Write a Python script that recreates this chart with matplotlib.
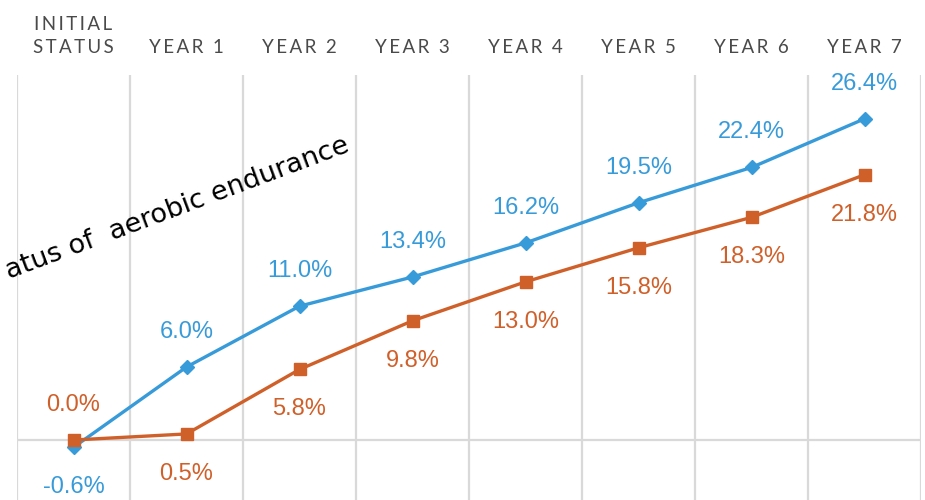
import matplotlib.pyplot as plt

# categories and values
categories = ['INITIAL\nSTATUS', 'YEAR 1', 'YEAR 2', 'YEAR 3', 'YEAR 4', 'YEAR 5', 'YEAR 6', 'YEAR 7']
blue_vals = [-0.6, 6.0, 11.0, 13.4, 16.2, 19.5, 22.4, 26.4]
orange_vals = [0.0, 0.5, 5.8, 9.8, 13.0, 15.8, 18.3, 21.8]

# label above (+1) or below (-1) each point
blue_side = [-1, 1, 1, 1, 1, 1, 1, 1]
orange_side = [1, -1, -1, -1, -1, -1, -1, -1]

blue = '#389bd9'
orange = '#d0602a'
grid_c = '#d9d9d9'

fig = plt.figure(figsize=(9.25, 5), dpi=100)
ax = fig.add_axes([17 / 925, 0, 904 / 925, 0.85])

x = list(range(len(categories)))

# vertical lines between categories, and the zero line
for b in range(len(categories) + 1):
    ax.axvline(b - 0.5, color=grid_c, lw=1.6, zorder=1)
ax.axhline(0, color=grid_c, lw=1.6, zorder=1)

ax.plot(x, blue_vals, color=blue, lw=2.4, marker='D', ms=7, zorder=3)
ax.plot(x, orange_vals, color=orange, lw=2.4, marker='s', ms=8, zorder=4)

for xi, v, s in zip(x, blue_vals, blue_side):
    ax.annotate(f'{v:.1f}%', (xi, v), xytext=(0, 27 * s), textcoords='offset points',
                ha='center', va='center_baseline', color=blue, fontsize=17, family='Liberation Sans')
for xi, v, s in zip(x, orange_vals, orange_side):
    ax.annotate(f'{v:.1f}%', (xi, v), xytext=(0, 27 * s), textcoords='offset points',
                ha='center', va='center_baseline', color=orange, fontsize=17, family='Liberation Sans')

ax.set_xlim(-0.5, 7.5)
ax.set_ylim(-4.93, 30.0)
ax.axis('off')

# header labels, letter spaced
for xi, c in zip(x, categories):
    px = (17 + (xi + 0.5) * 113) / 925
    txt = '\n'.join('\u2009'.join(line) for line in c.split('\n'))
    fig.text(px, 1 - 56 / 500, txt, ha='center', va='bottom', fontsize=13.5,
             color='#4a4a4a', family='Lato', linespacing=1.45)

# rotated text, only the part visible in the picture
fig.text(9 / 925, 1 - 279 / 500, 'atus of  aerobic endurance', rotation=20.5,
         rotation_mode='anchor', ha='left', va='baseline', fontsize=19.5, color='black',
         family='DejaVu Sans')

fig.savefig('out.png', dpi=100)
